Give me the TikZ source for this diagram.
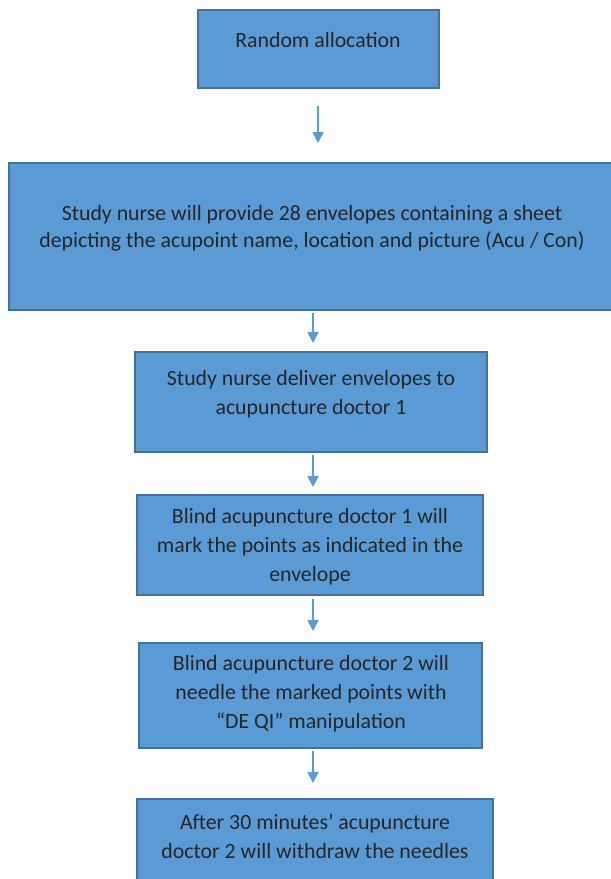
\documentclass[tikz,border=0pt]{standalone}
\usepackage{fontspec}
\setmainfont{Carlito}
\usetikzlibrary{arrows.meta}
\definecolor{boxfill}{HTML}{5B9BD5}
\definecolor{boxline}{HTML}{41719C}
\definecolor{boxtext}{HTML}{262626}
\tikzset{
    box/.style={draw=boxline, fill=boxfill, line width=1.5pt, inner sep=0pt},
    txt/.style={align=center, text=boxtext, font=\fontsize{21.8}{29}\selectfont},
    flow/.style={draw=boxfill, line width=1.6pt, -{Triangle[width=11pt, length=11pt]}}
}
\begin{document}
\begin{tikzpicture}[x=1pt, y=-1pt]
    \useasboundingbox (0, 0) rectangle (611, 879);

        %%B1
        \node[box, minimum width=241, minimum height=78](b1) at (318.5, 49){};
        \node[txt](t1) at (318, 40){Random allocation};
            \coordinate (a1s) at (318, 106);
            \coordinate (a1e) at (318, 143);
            \draw[flow](a1s) to (a1e);

        %%B2
        \node[box, minimum width=620, minimum height=147](b2) at (319, 236.5){};
        \node[txt, font=\fontsize{21.8}{27}\selectfont](t2) at (312, 228){Study nurse will provide 28 envelopes containing a sheet\\depicting the acupoint name, location and picture (Acu / Con)};
            \coordinate (a2s) at (313, 313);
            \coordinate (a2e) at (313, 343);
            \draw[flow](a2s) to (a2e);

        %%B3
        \node[box, minimum width=352, minimum height=100](b3) at (311, 402){};
        \node[txt](t3) at (311, 394){Study nurse deliver envelopes to\\acupuncture doctor 1};
            \coordinate (a3s) at (313, 455);
            \coordinate (a3e) at (313, 487);
            \draw[flow](a3s) to (a3e);

        %%B4
        \node[box, minimum width=346, minimum height=100](b4) at (310, 545){};
        \node[txt](t4) at (310, 547){Blind acupuncture doctor 1 will\\mark the points as indicated in the\\envelope};
            \coordinate (a4s) at (313, 599);
            \coordinate (a4e) at (313, 631);
            \draw[flow](a4s) to (a4e);

        %%B5
        \node[box, minimum width=343, minimum height=105](b5) at (310.5, 695.5){};
        \node[txt](t5) at (311, 694){Blind acupuncture doctor 2 will\\needle the marked points with\\“DE QI” manipulation};
            \coordinate (a5s) at (313, 751);
            \coordinate (a5e) at (313, 783);
            \draw[flow](a5s) to (a5e);

        %%B6
        \node[box, minimum width=356, minimum height=101](b6) at (315, 849.5){};
        \node[txt](t6) at (315, 836.5){After 30 minutes’ acupuncture\\doctor 2 will withdraw the needles};

\end{tikzpicture}
\end{document}
